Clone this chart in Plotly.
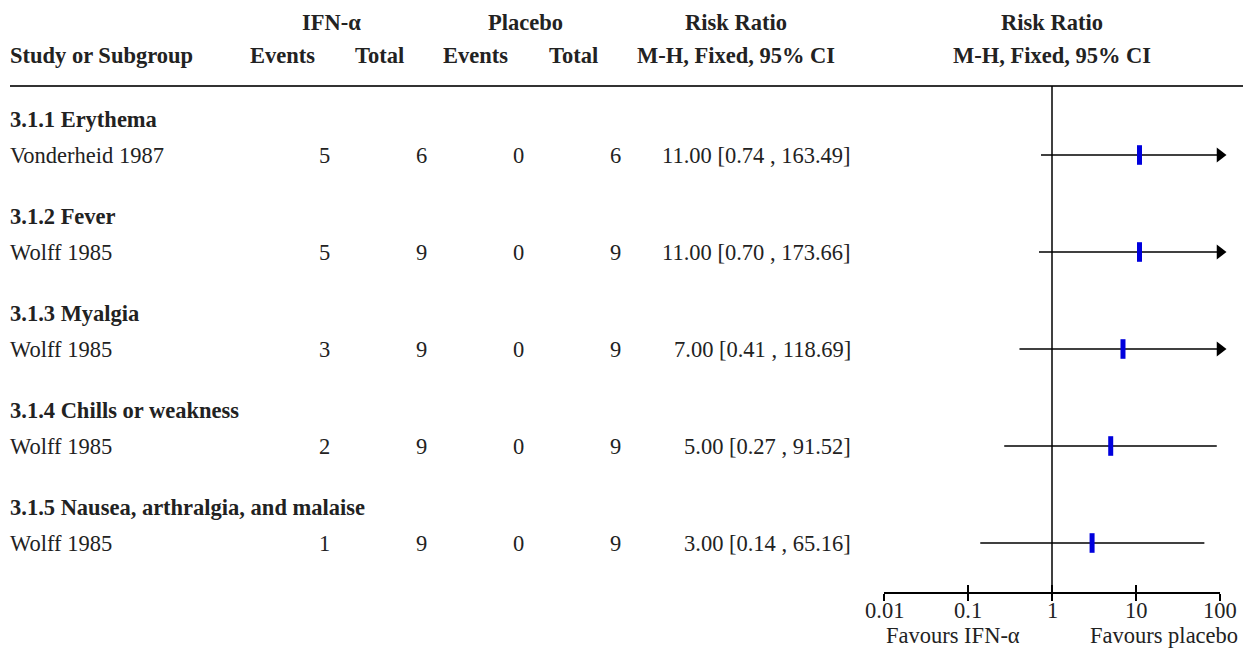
import math
import plotly.graph_objects as go

# ---------------- data ----------------
groups = ["3.1.1 Erythema", "3.1.2 Fever", "3.1.3 Myalgia",
          "3.1.4 Chills or weakness", "3.1.5 Nausea, arthralgia, and malaise"]
studies = ["Vonderheid 1987", "Wolff 1985", "Wolff 1985", "Wolff 1985", "Wolff 1985"]
ifn_events = [5, 5, 3, 2, 1]
ifn_total = [6, 9, 9, 9, 9]
pla_events = [0, 0, 0, 0, 0]
pla_total = [6, 9, 9, 9, 9]
rr = [11.00, 11.00, 7.00, 5.00, 3.00]
ci_low = [0.74, 0.70, 0.41, 0.27, 0.14]
ci_high = [163.49, 173.66, 118.69, 91.52, 65.16]
tick_vals = [0.01, 0.1, 1, 10, 100]
tick_text = ["0.01", "0.1", "1", "10", "100"]
x_min, x_max = 0.01, 100

# ---------------- layout constants ----------------
OFF = 8                      # page body margin of the browser
W, H = 1251 - OFF, 650 - OFF
FONT = "Liberation Serif"
FS = 22.5
TXT = "#222222"
heading_y = [119, 216, 313, 410, 507]
study_y = [155, 252, 349, 446, 543]
axis_y = 593


def px(x):
    return (x - OFF) / W


def py(y):
    return y - OFF


fig = go.Figure()

# CI lines
for i in range(len(rr)):
    hi = min(ci_high[i], x_max)
    fig.add_trace(go.Scatter(x=[ci_low[i], hi], y=[py(study_y[i])] * 2,
                             mode="lines", line=dict(color="black", width=1.5),
                             hoverinfo="skip", showlegend=False))
    if ci_high[i] > x_max:
        fig.add_trace(go.Scatter(x=[x_max], y=[py(study_y[i])], mode="markers",
                                 marker=dict(symbol="triangle-right", size=13, color="black",
                                             line=dict(width=0)),
                                 cliponaxis=False, hoverinfo="skip", showlegend=False))

# point estimates
fig.add_trace(go.Scatter(x=rr, y=[py(v) for v in study_y], mode="markers",
                         marker=dict(symbol="line-ns", size=14,
                                     line=dict(color="#0000dd", width=5)),
                         showlegend=False))

# invisible trace for inside-tick overlay axis
fig.add_trace(go.Scatter(x=[1], y=[py(axis_y)], xaxis="x2", mode="markers",
                         marker=dict(opacity=0), hoverinfo="skip", showlegend=False))

ann = []


def add(text, x, y, anchor="left", bold=False):
    ann.append(dict(text=f"<b>{text}</b>" if bold else text, x=px(x), y=py(y),
                    xref="paper", yref="y", xanchor=anchor, yanchor="middle",
                    showarrow=False, font=dict(family=FONT, size=FS, color=TXT)))


# headers
add("IFN-α", 331, 22, "center", True)
add("Placebo", 525, 22, "center", True)
add("Risk Ratio", 736, 22, "center", True)
add("Risk Ratio", 1052, 22, "center", True)
add("Study or Subgroup", 8, 55, "left", True)
add("Events", 282, 55, "center", True)
add("Total", 379, 55, "center", True)
add("Events", 476, 55, "center", True)
add("Total", 573, 55, "center", True)
add("M-H, Fixed, 95% CI", 736, 55, "center", True)
add("M-H, Fixed, 95% CI", 1052, 55, "center", True)

for i in range(len(groups)):
    add(groups[i], 8, heading_y[i], "left", True)
    add(studies[i], 8, study_y[i], "left")
    add(str(ifn_events[i]), 332, study_y[i], "right")
    add(str(ifn_total[i]), 429, study_y[i], "right")
    add(str(pla_events[i]), 526, study_y[i], "right")
    add(str(pla_total[i]), 623, study_y[i], "right")
    add(f"{rr[i]:.2f} [{ci_low[i]:.2f} , {ci_high[i]:.2f}]", 853, study_y[i], "right")

# axis tick labels (data-positioned on the log axis)
for v, t in zip(tick_vals, tick_text):
    ann.append(dict(text=t, x=math.log10(v), y=py(610), xref="x", yref="y",
                    xanchor="center", yanchor="middle", showarrow=False,
                    font=dict(family=FONT, size=FS, color=TXT)))

add("Favours IFN-α", 953, 635, "center")
add("Favours placebo", 1164, 635, "center")

shapes = [
    dict(type="line", xref="paper", yref="y", x0=px(10), x1=1, y0=py(86), y1=py(86),
         line=dict(color="#333333", width=2)),
    dict(type="line", xref="x", yref="y", x0=1, x1=1, y0=py(86), y1=py(axis_y),
         line=dict(color="black", width=1.5)),
]

xdom = [px(884), px(1220)]
xpos = 1 - py(axis_y) / H
common_x = dict(type="log", range=[-2, 2], domain=xdom, anchor="free", position=xpos,
                showgrid=False, zeroline=False, showline=True, linecolor="black",
                linewidth=1.5, tickvals=tick_vals, showticklabels=False,
                tickcolor="black", tickwidth=1.5, ticklen=7, automargin=False)

fig.update_layout(
    width=W, height=H,
    margin=dict(l=0, r=0, t=0, b=0, pad=0, autoexpand=False),
    paper_bgcolor="white", plot_bgcolor="white",
    xaxis=dict(**common_x, ticks="outside"),
    xaxis2=dict(**common_x, ticks="inside", overlaying="x"),
    yaxis=dict(range=[H, 0], domain=[0, 1], visible=False, showgrid=False,
               automargin=False),
    annotations=ann, shapes=shapes, showlegend=False,
)

fig.write_html("out.html")
